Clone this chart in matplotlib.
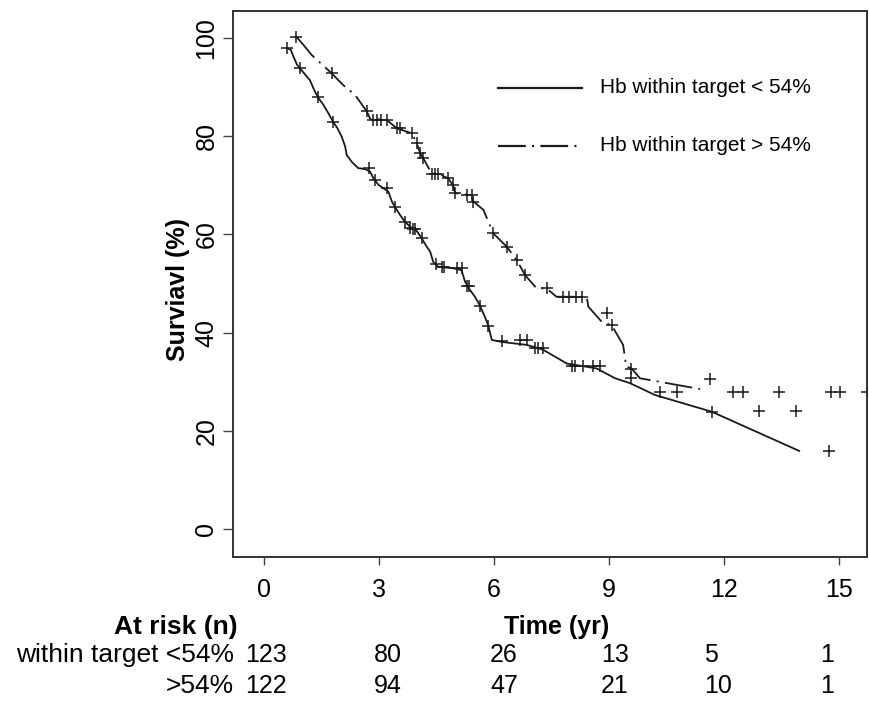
import matplotlib
matplotlib.use("Agg")
import matplotlib.pyplot as plt
import matplotlib.transforms as mtransforms

plt.rcParams['font.family'] = ['Liberation Sans', 'DejaVu Sans']
plt.rcParams['lines.scale_dashes'] = False

# --- Data ---
# Hb within target < 54% (solid)
t_low = [0.60, 0.69, 0.76, 0.85, 0.93, 1.06, 1.19, 1.32, 1.41, 1.54, 1.67, 1.79, 1.91,
         2.02, 2.11, 2.15, 2.28, 2.45, 2.63, 2.76, 2.85, 2.98, 3.11, 3.24, 3.33, 3.41,
         3.54, 3.67, 3.80, 3.98, 4.11, 4.24, 4.33, 4.41, 4.54, 4.93, 5.15, 5.24, 5.37,
         5.50, 5.63, 5.76, 5.85, 5.94, 6.20, 6.85, 7.28, 7.90, 8.68, 9.16, 9.55, 10.20,
         11.68, 13.97]
s_low = [97.9, 97.6, 96.2, 94.6, 93.8, 92.6, 91.4, 89.1, 87.8, 86.4, 84.7, 83.0, 81.6,
         79.9, 77.9, 76.2, 74.8, 73.5, 73.3, 72.8, 71.4, 70.1, 69.4, 68.7, 66.7, 65.6,
         64.0, 62.6, 61.6, 60.7, 59.2, 57.5, 56.5, 54.4, 53.4, 53.1, 52.7, 50.4, 48.7,
         47.3, 45.5, 43.2, 41.4, 38.5, 38.1, 37.5, 36.5, 33.7, 32.7, 30.7, 29.7, 27.3,
         23.9, 15.9]
cens_t_low = [0.60, 0.93, 1.39, 1.79, 2.74, 2.89, 3.20, 3.41, 3.67, 3.80, 3.87, 3.94, 4.13,
              4.47, 4.63, 4.70, 5.02, 5.15, 5.28, 5.34, 5.63, 5.85, 6.20, 6.68, 6.85, 7.07,
              7.15, 7.28, 8.03, 8.12, 8.33, 8.59, 8.77, 9.57, 10.33, 11.68, 12.93, 13.88, 14.75]
cens_s_low = [97.9, 93.8, 88.0, 82.8, 73.5, 71.1, 69.4, 65.6, 62.6, 61.4, 61.2, 61.0, 59.2,
              54.0, 53.4, 53.4, 53.1, 53.1, 49.5, 49.5, 45.5, 41.4, 38.2, 38.5, 38.5, 36.8,
              36.8, 36.8, 33.2, 33.2, 33.2, 33.2, 33.2, 30.7, 28.0, 23.9, 24.0, 24.0, 15.9]

# Hb within target > 54% (dash-dot)
t_high = [0.83, 1.02, 1.24, 1.76, 2.06, 2.37, 2.67, 2.76, 3.20, 3.46, 3.85, 3.98, 4.07,
          4.20, 4.37, 4.54, 4.80, 4.93, 4.98, 5.41, 5.46, 5.72, 5.98, 6.33, 6.59, 6.81,
          7.11, 7.37, 7.63, 8.42, 8.46, 8.81, 9.07, 9.37, 9.45, 9.59, 9.81, 10.38, 11.38]
s_high = [100.3, 98.6, 96.5, 92.8, 90.4, 88.4, 85.1, 83.6, 83.3, 81.6, 80.6, 78.6, 76.5,
          74.8, 72.4, 72.4, 71.4, 70.0, 68.4, 68.0, 66.7, 65.0, 60.2, 57.5, 54.8, 51.7,
          49.0, 49.0, 47.3, 47.3, 45.3, 42.2, 41.5, 37.5, 33.1, 32.7, 30.7, 29.9, 28.5]
cens_t_high = [0.83, 1.76, 2.67, 2.85, 2.95, 3.05, 3.20, 3.46, 3.55, 3.85, 3.98, 4.07, 4.15,
               4.37, 4.45, 4.54, 4.80, 4.93, 4.98, 5.28, 5.41, 5.46, 5.98, 6.33, 6.59, 6.81,
               7.37, 7.80, 7.95, 8.15, 8.30, 8.94, 9.07, 9.57, 10.78, 11.64, 12.25, 12.50,
               13.44, 14.81, 15.03, 15.75]
cens_s_high = [100.3, 92.8, 85.1, 83.3, 83.3, 83.3, 83.3, 81.6, 81.6, 80.6, 78.6, 76.5, 75.5,
               72.4, 72.4, 72.4, 71.4, 70.0, 68.4, 68.0, 68.0, 66.7, 60.2, 57.5, 54.8, 51.7,
               49.0, 47.3, 47.3, 47.3, 47.3, 43.9, 41.5, 32.6, 28.0, 30.5, 28.0, 28.0,
               28.0, 28.0, 28.0, 28.0]

risk_times = [0, 3, 6, 9, 12, 15]
risk_low = [123, 80, 26, 13, 5, 1]
risk_high = [122, 94, 47, 21, 10, 1]

labels = ["Hb within target < 54%", "Hb within target > 54%"]
row_labels = ["within target <54%", ">54%"]

# the at-risk numbers are left aligned a few pixels before each tick
risk_shift_px = [-19, -5, -4, -8, -20, -19]

line_col = "#1a1a1a"
dashdot = (0, (20, 4.5, 1.5, 4.5))

fig = plt.figure(figsize=(8.69, 7.09), dpi=100)
ax = fig.add_axes([0.2681, 0.2144, 0.7296, 0.7701])

ax.plot(t_low, s_low, color=line_col, lw=1.3, solid_joinstyle='round')
ax.plot(t_high, s_high, color=line_col, lw=1.3, linestyle=dashdot)
ax.plot(cens_t_low, cens_s_low, linestyle='none', marker='+', ms=8.5, mew=1.1, color=line_col)
ax.plot(cens_t_high, cens_s_high, linestyle='none', marker='+', ms=8.5, mew=1.1, color=line_col)

ax.set_xlim(-0.82, 15.74)
ax.set_ylim(-5.7, 105.5)
ax.set_xticks(risk_times)
ax.set_yticks([0, 20, 40, 60, 80, 100])

for sp in ax.spines.values():
    sp.set_color("#333333")
    sp.set_linewidth(1.4)

ax.tick_params(axis='x', direction='out', length=6, width=1, color="#444444",
               labelsize=18, pad=9)
ax.tick_params(axis='y', direction='out', length=7.5, width=1, color="#444444",
               labelsize=18, pad=3)
plt.setp(ax.get_yticklabels(), rotation=90, va='center')

ax.set_ylabel("Surviavl (%)", fontsize=18, fontweight='bold')
ax.yaxis.set_label_coords(-0.068, 0.49)

# legend drawn by hand, no frame
ax.plot([0.418, 0.550], [0.859, 0.859], transform=ax.transAxes, color=line_col, lw=1.6)
ax.plot([0.418, 0.550], [0.753, 0.753], transform=ax.transAxes, color=line_col, lw=1.6,
        linestyle=dashdot)
ax.text(0.579, 0.859, labels[0], transform=ax.transAxes, fontsize=15, va='center')
ax.text(0.579, 0.753, labels[1], transform=ax.transAxes, fontsize=15, va='center')

# at-risk table under the axis
trans = mtransforms.blended_transform_factory(ax.transData, fig.transFigure)
fig.text(0.2739, 0.1058, "At risk (n)", ha='right', va='baseline', fontsize=19,
         fontweight='bold')
fig.text(0.640, 0.1058, "Time (yr)", ha='center', va='baseline', fontsize=18,
         fontweight='bold')
fig.text(0.2693, 0.0663, row_labels[0], ha='right', va='baseline', fontsize=19)
fig.text(0.2693, 0.0226, row_labels[1], ha='right', va='baseline', fontsize=19)
for t, a, b, dx in zip(risk_times, risk_low, risk_high, risk_shift_px):
    tr = trans + mtransforms.ScaledTranslation(dx / 100, 0, fig.dpi_scale_trans)
    ax.text(t, 0.0663, str(a), transform=tr, ha='left', va='baseline', fontsize=18,
            clip_on=False)
    ax.text(t, 0.0226, str(b), transform=tr, ha='left', va='baseline', fontsize=18,
            clip_on=False)

fig.savefig("out.png", dpi=100)
